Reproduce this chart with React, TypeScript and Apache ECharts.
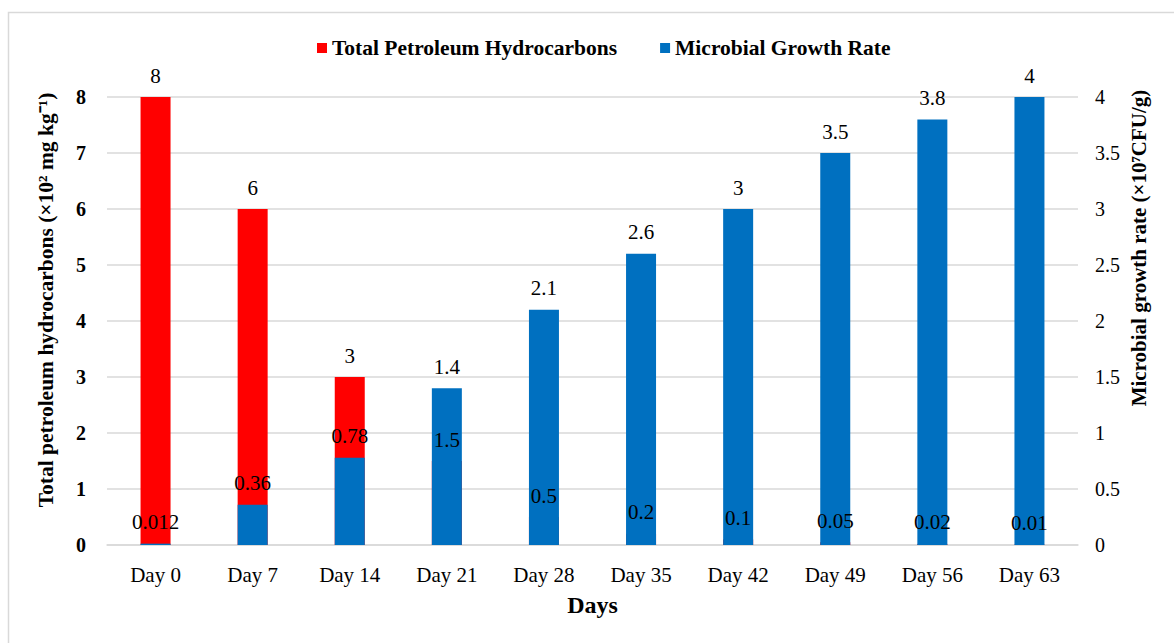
import React, { useEffect, useRef } from "react";
import * as echarts from "echarts";

const categories = ["Day 0", "Day 7", "Day 14", "Day 21", "Day 28", "Day 35", "Day 42", "Day 49", "Day 56", "Day 63"];
const tphValues = [8, 6, 3, 1.5, 0.5, 0.2, 0.1, 0.05, 0.02, 0.01];
const microbialValues = [0.012, 0.36, 0.78, 1.4, 2.1, 2.6, 3, 3.5, 3.8, 4];

const leftTitle = "Total petroleum hydrocarbons (×10² mg kg⁻¹)";
const rightTitle = "Microbial growth rate (×10⁷CFU/g)";

const FONT = "'Liberation Serif', 'Times New Roman', serif";

export default function App() {
  const ref = useRef<HTMLDivElement>(null);
  useEffect(() => {
    if (!ref.current) return;
    const chart = echarts.init(ref.current, null, { renderer: "svg" });
    const labelStyle = { show: true, position: "top", distance: 11, fontFamily: FONT, fontSize: 21, color: "#000" };
    chart.setOption({
      animation: false,
      backgroundColor: "#ffffff",
      textStyle: { fontFamily: FONT },
      graphic: [
        {
          type: "rect",
          shape: { x: 8.5, y: 12.5, width: 1300, height: 800 },
          style: { fill: "none", stroke: "#d9d9d9", lineWidth: 1.5 },
          silent: true,
          z: -1,
        },
        {
          type: "text",
          x: 45.5,
          y: 300,
          rotation: Math.PI / 2,
          style: {
            text: leftTitle,
            fontFamily: FONT,
            fontSize: 21.5,
            fontWeight: "bold",
            fill: "#000",
            align: "center",
            verticalAlign: "middle",
          },
        },
        {
          type: "text",
          x: 1139,
          y: 248,
          rotation: Math.PI / 2,
          style: {
            text: rightTitle,
            fontFamily: FONT,
            fontSize: 21,
            fontWeight: "bold",
            fill: "#000",
            align: "center",
            verticalAlign: "middle",
          },
        },
      ],
      legend: {
        top: 32,
        left: 312,
        itemWidth: 10,
        itemHeight: 10,
        itemGap: 43,
        icon: "rect",
        textStyle: { fontFamily: FONT, fontSize: 21.5, fontWeight: "bold", color: "#000" },
        data: ["Total Petroleum Hydrocarbons", "Microbial Growth Rate"],
      },
      grid: { left: 107, right: 96, top: 97, bottom: 98 },
      xAxis: {
        type: "category",
        data: categories,
        name: "Days",
        nameLocation: "middle",
        nameGap: 48,
        nameTextStyle: { fontFamily: FONT, fontSize: 24, fontWeight: "bold", color: "#000" },
        axisLine: { show: true, lineStyle: { color: "#d9d9d9", width: 1.5 } },
        axisTick: { show: false },
        axisLabel: { fontFamily: FONT, fontSize: 21, color: "#000", margin: 19 },
      },
      yAxis: [
        {
          type: "value",
          min: 0,
          max: 8,
          interval: 1,
          axisLine: { show: false },
          axisTick: { show: false },
          axisLabel: { fontFamily: FONT, fontSize: 20, fontWeight: "bold", color: "#000", margin: 21 },
          splitLine: { show: true, lineStyle: { color: "#d9d9d9", width: 1.5 } },
        },
        {
          type: "value",
          min: 0,
          max: 4,
          interval: 0.5,
          axisLine: { show: false },
          axisTick: { show: false },
          axisLabel: { fontFamily: FONT, fontSize: 20, color: "#000", margin: 17 },
          splitLine: { show: false },
        },
      ],
      series: [
        {
          name: "Total Petroleum Hydrocarbons",
          type: "bar",
          yAxisIndex: 0,
          data: tphValues,
          barWidth: 30,
          barGap: "-100%",
          itemStyle: { color: "#ff0000" },
          z: 2,
        },
        {
          name: "Microbial Growth Rate",
          type: "bar",
          yAxisIndex: 1,
          data: microbialValues,
          barWidth: 30,
          barGap: "-100%",
          itemStyle: { color: "#0070c0" },
          label: labelStyle,
          z: 3,
        },
        {
          name: "TPH labels",
          type: "bar",
          yAxisIndex: 0,
          data: tphValues,
          barWidth: 30,
          barGap: "-100%",
          silent: true,
          itemStyle: { color: "rgba(0,0,0,0)" },
          label: labelStyle,
          z: 10,
        },
      ],
    });
    return () => chart.dispose();
  }, []);
  return <div ref={ref} style={{ position: "fixed", left: 0, top: 0, width: 1174, height: 643 }} />;
}
